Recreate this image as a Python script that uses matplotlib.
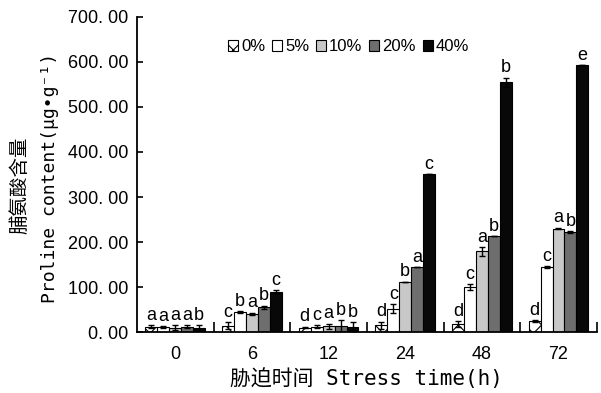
import matplotlib.pyplot as plt
import numpy as np

# proline content per stress time, five concentrations
times = ['0', '6', '12', '24', '48', '72']
levels = ['0%', '5%', '10%', '20%', '40%']

mean_0 = [12, 14, 10, 15, 18, 24]
mean_5 = [11, 45, 12, 52, 100, 144]
mean_10 = [10, 40, 13, 112, 179, 230]
mean_20 = [12, 55, 13, 144, 213, 222]
mean_40 = [10, 90, 12, 351, 555, 593]

err_0 = [3, 8, 2, 8, 6, 2]
err_5 = [2, 2, 3, 10, 6, 2]
err_10 = [5, 3, 6, 0, 10, 2]
err_20 = [3, 4, 14, 0, 0, 2]
err_40 = [6, 3, 10, 0, 10, 0]

sig_0 = ['a', 'c', 'd', 'd', 'd', 'd']
sig_5 = ['a', 'b', 'c', 'c', 'c', 'c']
sig_10 = ['a', 'a', 'a', 'b', 'a', 'a']
sig_20 = ['a', 'b', 'b', 'a', 'b', 'b']
sig_40 = ['b', 'c', 'b', 'c', 'b', 'e']

yticks = [0, 100, 200, 300, 400, 500, 600, 700]
yticklabels = ['0. 00', '100. 00', '200. 00', '300. 00', '400. 00',
               '500. 00', '600. 00', '700. 00']

means = [mean_0, mean_5, mean_10, mean_20, mean_40]
errs = [err_0, err_5, err_10, err_20, err_40]
sigs = [sig_0, sig_5, sig_10, sig_20, sig_40]
colors = ['white', 'white', '#c8c8c8', '#6e6e6e', '#080808']
hatches = ['xx', '', '', '', '']

plt.rcParams['font.family'] = ['Liberation Sans', 'Noto Sans CJK SC']
plt.rcParams['hatch.linewidth'] = 0.8

fig = plt.figure(figsize=(6.01, 3.93), dpi=100)
ax = fig.add_axes([0.228, 0.155, 0.765, 0.802])

x = np.arange(len(times))
w = 0.156
for i in range(5):
    pos = x + (i - 2) * w
    ax.bar(pos, means[i], w, color=colors[i], edgecolor='black',
           linewidth=0.8, hatch=hatches[i], label=levels[i], zorder=2)
    ax.errorbar(pos, means[i], yerr=errs[i], fmt='none', ecolor='black',
                elinewidth=1, capsize=2.5, capthick=1, zorder=3)
    for p, m, e, s in zip(pos, means[i], errs[i], sigs[i]):
        ax.text(p, m + e + 3, s, ha='center', va='bottom', fontsize=13)

ax.set_xlim(-0.5, 5.5)
ax.set_ylim(0, 700)
ax.set_xticks(x)
ax.set_xticklabels(times, fontsize=13)
ax.set_xticks(np.arange(0.5, 6, 1), minor=True)
ax.tick_params(axis='x', which='major', length=0, pad=10)
ax.tick_params(axis='x', which='minor', direction='in', length=7, width=1.2)
ax.set_yticks(yticks)
ax.set_yticklabels(yticklabels, fontsize=13)
ax.tick_params(axis='y', direction='in', length=4, width=1.2, pad=6)

for side in ['top', 'right']:
    ax.spines[side].set_visible(False)
for side in ['left', 'bottom']:
    ax.spines[side].set_linewidth(1.3)

mono = ['DejaVu Sans Mono', 'Noto Sans CJK SC']
ax.set_xlabel('胁迫时间 Stress time(h)', fontsize=15, family=mono, labelpad=4)
ax.text(-0.19, 0.49, 'Proline content(μg•g⁻¹)', rotation=90, fontsize=13,
        family=mono, ha='center', va='center', transform=ax.transAxes)
ax.text(-0.255, 0.467, '脯氨酸含量', rotation=90, fontsize=14,
        family=mono, ha='center', va='center', transform=ax.transAxes)

ax.legend(loc='center', bbox_to_anchor=(0.46, 0.905), ncol=5, frameon=False,
          fontsize=12, handlelength=0.6, handleheight=0.6, handletextpad=0.2,
          columnspacing=0.4, borderpad=0.2)

fig.savefig('out.png', dpi=100)
